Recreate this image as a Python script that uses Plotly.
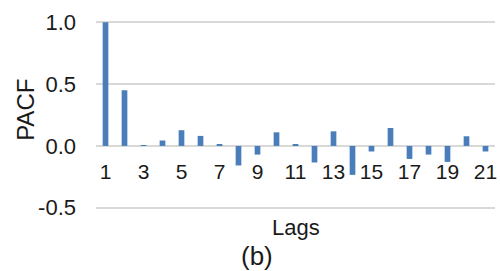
import plotly.graph_objects as go

lags = list(range(1, 22))
pacf = [1.0, 0.45, 0.003, 0.044, 0.127, 0.081, 0.014, -0.158, -0.07, 0.11,
        0.014, -0.134, 0.118, -0.234, -0.045, 0.145, -0.105, -0.07, -0.129, 0.078, -0.045]
xtick_vals = list(range(1, 22, 2))
ytick_vals = [-0.5, 0.0, 0.5, 1.0]
ytick_text = ["-0.5", "0.0", "0.5", "1.0"]

font = "Liberation Sans, Arial, sans-serif"
y_range = [-0.51, 1.01]

fig = go.Figure(go.Bar(x=lags, y=pacf, width=0.3, marker=dict(color="#4a7ebb", line=dict(width=0))))

def py(p):
    # pixel row -> paper fraction (plot area from 21 to 209)
    return (209 - p) / 188

def px(p):
    return (p - 96) / 401

fig.update_layout(
    width=500, height=271,
    margin=dict(l=96, r=3, t=21, b=62),
    plot_bgcolor="white", paper_bgcolor="white",
    showlegend=False,
    font=dict(family=font, size=22, color="#1a1a1a"),
    xaxis=dict(
        range=[0.5, 21.5], tickmode="array", tickvals=xtick_vals,
        ticktext=[str(v) for v in xtick_vals],
        anchor="free", position=(0 - y_range[0]) / (y_range[1] - y_range[0]),
        showgrid=False, zeroline=False,
        showline=False, ticks="", ticklabelstandoff=11,
        ticklabeloverflow="allow",
        tickfont=dict(size=21, family=font),
    ),
    yaxis=dict(
        range=y_range, tickmode="array", tickvals=ytick_vals, ticktext=ytick_text,
        showgrid=True, gridcolor="#d9d9d9", gridwidth=1.5, zeroline=False,
        showline=False, ticks="", ticklabelstandoff=19,
        tickfont=dict(size=22, family=font),
    ),
    annotations=[
        dict(text="PACF", x=px(24.5), y=py(110), xref="paper", yref="paper",
             textangle=-90, showarrow=False, xanchor="center", yanchor="middle",
             font=dict(size=24, family=font)),
        dict(text="Lags", x=px(297), y=py(228), xref="paper", yref="paper",
             showarrow=False, xanchor="center", yanchor="middle", font=dict(size=22, family=font)),
        dict(text="(b)", x=px(257.5), y=py(256), xref="paper", yref="paper",
             showarrow=False, xanchor="center", yanchor="middle", font=dict(size=26, family=font)),
    ],
)

fig.write_html("out.html", config={"displayModeBar": False})
with open("out.html", encoding="utf-8") as f:
    html = f.read()
html = html.replace("<body>", '<body style="margin:0;overflow:hidden">', 1)
with open("out.html", "w", encoding="utf-8") as f:
    f.write(html)
